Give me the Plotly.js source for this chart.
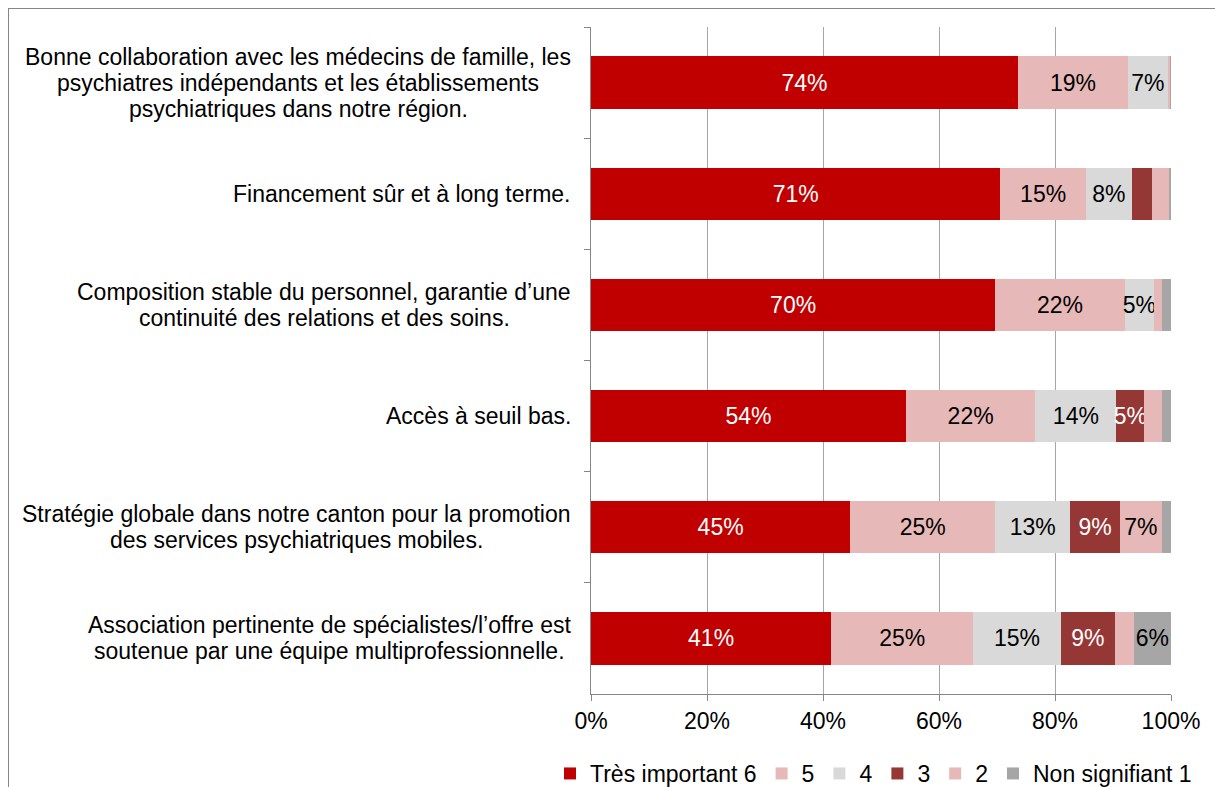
<!DOCTYPE html>
<html>
<head>
<meta charset="utf-8">
<script src="https://cdn.plot.ly/plotly-3.0.1.min.js"></script>
<style>
  body { margin: 0; background: #fff; }
  #wrap { position: relative; width: 1215px; height: 787px; }
  #frame { position: absolute; left: 8px; top: 8px; right: 0; bottom: 0; border-top: 1px solid #868686; border-left: 1px solid #868686; pointer-events: none; }
  #chart { position: absolute; left: 0; top: 0; width: 1215px; height: 787px; }
</style>
</head>
<body>
<div id="wrap">
  <div id="chart"></div>
  <div id="frame"></div>
</div>
<script>
var categories = [
  "Bonne collaboration avec les médecins de famille, les<br>psychiatres indépendants et les établissements<br>psychiatriques dans notre région.",
  "Financement sûr et à long terme.",
  "Composition stable du personnel, garantie d’une<br>continuité des relations et des soins.",
  "Accès à seuil bas.",
  "Stratégie globale dans notre canton pour la promotion<br>des services psychiatriques mobiles.",
  "Association pertinente de spécialistes/l’offre est<br>soutenue par une équipe multiprofessionnelle."
];

var seriesNames = ["Très important 6", "5", "4", "3", "2", "Non signifiant 1"];

var veryImportant = [73.6, 70.6, 69.7, 54.3, 44.7, 41.4];
var five = [19.0, 14.7, 22.3, 22.3, 25.0, 24.5];
var four = [6.8, 8.0, 5.1, 14.0, 12.9, 15.1];
var three = [0, 3.4, 0, 4.8, 8.6, 9.3];
var two = [0.4, 3.0, 1.3, 3.1, 7.2, 3.3];
var notSignificant = [0.2, 0.3, 1.6, 1.5, 1.6, 6.4];

var seriesColors = ["#C00000", "#E6B9B8", "#D9D9D9", "#953735", "#E6B9B8", "#A6A6A6"];
var textColors = ["#ffffff", "#000000", "#000000", "#ffffff", "#000000", "#000000"];

var FONT = "Liberation Sans, Arial, sans-serif";
var FONT_SIZE = 23;
var PLOT_LEFT = 591;
var PLOT_WIDTH = 580;
var PLOT_HEIGHT = 667;
var LABEL_RIGHT = 571;
var LINE_STEP = 26;

function labelsFor(values) {
  return values.map(function (v) {
    return v >= 4.5 ? Math.round(v) + "%" : "";
  });
}

// measure text so a multi-line label can be centred as a block, right edge at LABEL_RIGHT
var ctx = document.createElement("canvas").getContext("2d");
ctx.font = FONT_SIZE + "px 'Liberation Sans', Arial, sans-serif";

function lineAnnotations(cat) {
  var lines = cat.split("<br>");
  var widest = 0;
  lines.forEach(function (l) {
    widest = Math.max(widest, ctx.measureText(l).width);
  });
  var centerPx = LABEL_RIGHT - widest / 2;
  var xPaper = (centerPx - PLOT_LEFT) / PLOT_WIDTH;
  return lines.map(function (l, i) {
    return {
      text: l,
      xref: "paper",
      yref: "y",
      x: xPaper,
      y: cat,
      xanchor: "center",
      yanchor: "middle",
      yshift: ((lines.length - 1) / 2 - i) * LINE_STEP,
      showarrow: false,
      font: { family: FONT, size: FONT_SIZE, color: "#000000" }
    };
  });
}

var allSeries = [veryImportant, five, four, three, two, notSignificant];
var data = [];
for (var i = 0; i < allSeries.length; i++) {
  data.push({
    type: "bar",
    orientation: "h",
    name: seriesNames[i],
    x: allSeries[i],
    y: categories,
    text: labelsFor(allSeries[i]),
    textposition: "inside",
    insidetextanchor: "middle",
    constraintext: "none",
    textangle: 0,
    textfont: { family: FONT, size: FONT_SIZE, color: textColors[i] },
    marker: { color: seriesColors[i], line: { width: 0 } },
    hoverinfo: "x+name"
  });
}

var annotations = [];
categories.forEach(function (c) {
  annotations = annotations.concat(lineAnnotations(c));
});

var layout = {
  width: 1215,
  height: 787,
  margin: { l: 591, r: 44, t: 27, b: 93, autoexpand: false },
  barmode: "stack",
  bargap: 0.53,
  paper_bgcolor: "rgba(0,0,0,0)",
  plot_bgcolor: "#ffffff",
  font: { family: FONT, size: FONT_SIZE, color: "#000000" },
  xaxis: {
    range: [0, 100],
    tickvals: [0, 20, 40, 60, 80, 100],
    ticktext: ["0%", "20%", "40%", "60%", "80%", "100%"],
    showgrid: true,
    gridcolor: "#A6A6A6",
    gridwidth: 1,
    zeroline: false,
    showline: true,
    linecolor: "#868686",
    linewidth: 1,
    ticks: "outside",
    ticklen: 6,
    tickcolor: "#868686",
    tickfont: { family: FONT, size: FONT_SIZE, color: "#000000" },
    automargin: false,
    fixedrange: true
  },
  yaxis: {
    type: "category",
    autorange: "reversed",
    showticklabels: false,
    tickson: "boundaries",
    ticks: "outside",
    ticklen: 6,
    tickcolor: "#868686",
    showline: true,
    linecolor: "#868686",
    linewidth: 1,
    showgrid: false,
    automargin: false,
    fixedrange: true
  },
  legend: {
    orientation: "h",
    x: (550 - PLOT_LEFT) / PLOT_WIDTH,
    xanchor: "left",
    y: -(752 - 694) / PLOT_HEIGHT,
    yanchor: "top",
    traceorder: "normal",
    font: { family: FONT, size: FONT_SIZE, color: "#000000" },
    itemwidth: 30
  },
  annotations: annotations
};

Plotly.newPlot("chart", data, layout, { displayModeBar: false, staticPlot: true });
</script>
</body>
</html>
